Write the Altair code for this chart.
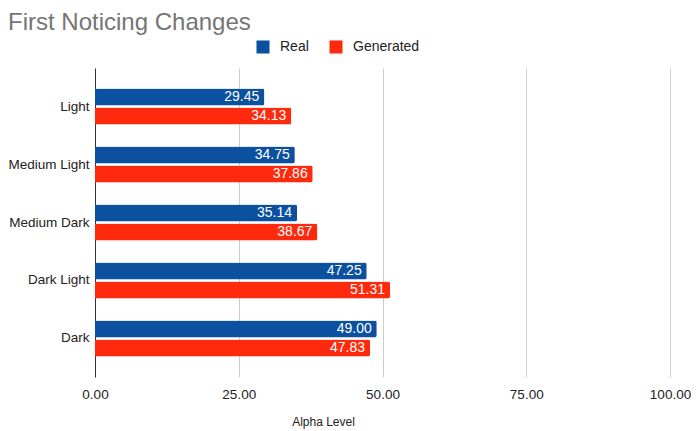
import altair as alt
import pandas as pd

categories = ["Light", "Medium Light", "Medium Dark", "Dark Light", "Dark"]
real_values = [29.45, 34.75, 35.14, 47.25, 49.00]
generated_values = [34.13, 37.86, 38.67, 51.31, 47.83]
series_names = ["Real", "Generated"]
series_colors = ["#0B51A0", "#FF2A0D"]

rows = []
for c, r, g in zip(categories, real_values, generated_values):
    rows.append({"cat": c, "series": "Real", "value": r})
    rows.append({"cat": c, "series": "Generated", "value": g})
df = pd.DataFrame(rows)

FONT = "Liberation Sans"

y_enc = alt.Y("cat:N", sort=categories,
              scale=alt.Scale(paddingInner=0.38, paddingOuter=0.354),
              axis=alt.Axis(title=None, ticks=False, labelFontSize=13.5, labelColor="#222",
                            labelFont=FONT, labelPadding=6, domainColor="#333",
                            domainWidth=1, grid=False))
yoff = alt.YOffset("series:N", sort=series_names, scale=alt.Scale(paddingInner=0.1))
x_enc = alt.X("value:Q", scale=alt.Scale(domain=[0, 100], nice=False),
              axis=alt.Axis(title="Alpha Level", values=[0, 25, 50, 75, 100], format=".2f",
                            labelFontSize=13.5, labelColor="#222", labelFont=FONT,
                            labelPadding=10, labelFlush=False, ticks=False, domain=False,
                            grid=True, gridColor="#cccccc", gridWidth=1,
                            titleFont=FONT, titleFontSize=12, titleFontWeight="normal",
                            titleColor="#222", titlePadding=16, titleX=228,
                            titleAlign="center"))

bars = alt.Chart(df).mark_bar(cornerRadiusEnd=2).encode(
    y=y_enc, yOffset=yoff, x=x_enc,
    color=alt.Color("series:N", sort=series_names,
                    scale=alt.Scale(domain=series_names, range=series_colors),
                    legend=alt.Legend(title=None, orient="none", direction="horizontal",
                                      legendX=161, legendY=-28, symbolType="square",
                                      symbolSize=170, symbolStrokeWidth=0,
                                      labelFontSize=14, labelFont=FONT, labelColor="#222",
                                      labelOffset=10, columnPadding=20)),
)

labels = alt.Chart(df).mark_text(align="right", baseline="middle", dx=-5, color="white",
                                 fontSize=14, font=FONT).encode(
    y=alt.Y("cat:N", sort=categories), yOffset=yoff, x="value:Q",
    text=alt.Text("value:Q", format=".2f"),
)

chart = alt.layer(bars, labels).properties(
    width=575, height=309,
    autosize=alt.AutoSizeParams(type="none"),
    padding={"left": 87, "top": 60, "right": 21, "bottom": 62},
    title=alt.Title("First Noticing Changes", anchor="start", frame="group", dx=-87,
                    offset=5, fontSize=24, font=FONT, fontWeight="normal", color="#757575"),
).configure_view(stroke=None)

chart.save("out.html", embed_options={"renderer": "svg", "actions": False})
